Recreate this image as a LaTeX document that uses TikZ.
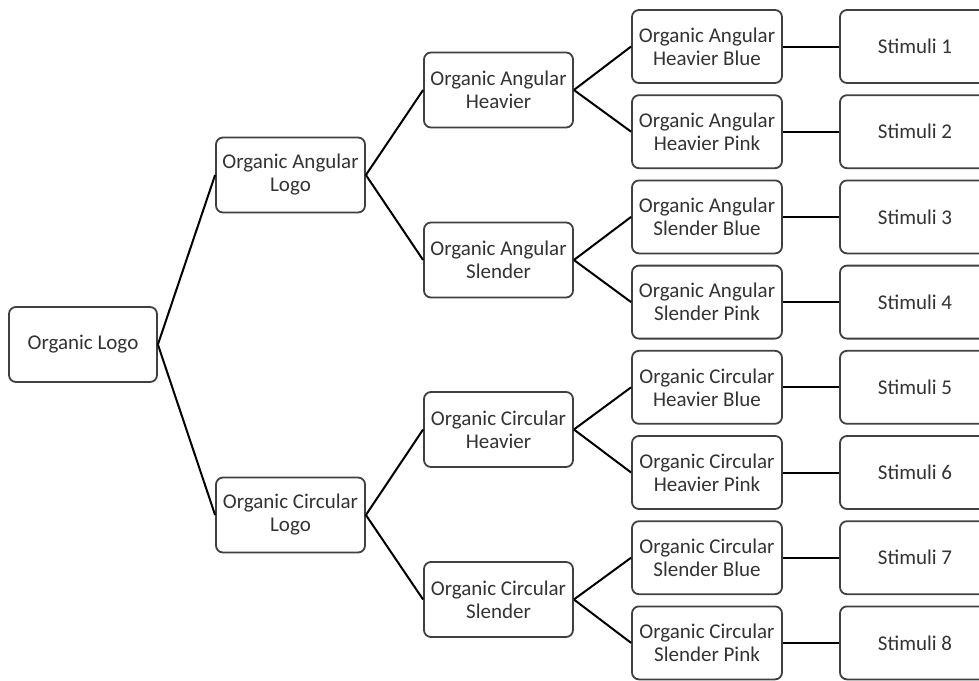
\documentclass[tikz,border=0pt]{standalone}
\usepackage{fontspec}
\setmainfont{Carlito}
\definecolor{boxline}{HTML}{404040}
\definecolor{txt}{HTML}{333333}
\begin{document}
\begin{tikzpicture}[x=1pt,y=1pt,
  box/.style={draw=boxline,line width=1.8pt,rounded corners=7pt,fill=white,
    align=center,inner sep=0pt,text=txt,font=\fontsize{21}{23}\selectfont},
  b0/.style={box,minimum width=148pt,minimum height=75pt},
  b1/.style={box,minimum width=149pt,minimum height=75pt},
  b3/.style={box,minimum width=150pt,minimum height=73pt},
  bs/.style={box,minimum width=150pt,minimum height=73pt},
  conn/.style={line width=2pt,black}]
\clip (0,0) rectangle (979,-680);
\fill[white] (0,0) rectangle (979,-680);
% level 0
\node[b0] (o) at (83,-344.5) {Organic Logo};
% level 1
\node[b1] (al) at (290.5,-175) {Organic Angular\\Logo};
\node[b1] (cl) at (290.5,-515) {Organic Circular\\Logo};
% level 2
\node[b1] (ah) at (498.5,-90) {Organic Angular\\Heavier};
\node[b1] (as) at (498.5,-260) {Organic Angular\\Slender};
\node[b1] (ch) at (498.5,-429.5) {Organic Circular\\Heavier};
\node[b1] (cs) at (498.5,-599.5) {Organic Circular\\Slender};
% level 3
\node[b3] (ahb) at (707,-46.5) {Organic Angular\\Heavier Blue};
\node[b3] (ahp) at (707,-131.7) {Organic Angular\\Heavier Pink};
\node[b3] (asb) at (707,-216.9) {Organic Angular\\Slender Blue};
\node[b3] (asp) at (707,-302.1) {Organic Angular\\Slender Pink};
\node[b3] (chb) at (707,-387.3) {Organic Circular\\Heavier Blue};
\node[b3] (chp) at (707,-472.5) {Organic Circular\\Heavier Pink};
\node[b3] (csb) at (707,-557.7) {Organic Circular\\Slender Blue};
\node[b3] (csp) at (707,-642.9) {Organic Circular\\Slender Pink};
% stimuli
\node[bs] (s1) at (915,-46.5) {Stimuli 1};
\node[bs] (s2) at (915,-131.7) {Stimuli 2};
\node[bs] (s3) at (915,-216.9) {Stimuli 3};
\node[bs] (s4) at (915,-302.1) {Stimuli 4};
\node[bs] (s5) at (915,-387.3) {Stimuli 5};
\node[bs] (s6) at (915,-472.5) {Stimuli 6};
\node[bs] (s7) at (915,-557.7) {Stimuli 7};
\node[bs] (s8) at (915,-642.9) {Stimuli 8};
% connectors
\draw[conn] (o.east) -- (al.west);
\draw[conn] (o.east) -- (cl.west);
\draw[conn] (al.east) -- (ah.west);
\draw[conn] (al.east) -- (as.west);
\draw[conn] (cl.east) -- (ch.west);
\draw[conn] (cl.east) -- (cs.west);
\draw[conn] (ah.east) -- (ahb.west);
\draw[conn] (ah.east) -- (ahp.west);
\draw[conn] (as.east) -- (asb.west);
\draw[conn] (as.east) -- (asp.west);
\draw[conn] (ch.east) -- (chb.west);
\draw[conn] (ch.east) -- (chp.west);
\draw[conn] (cs.east) -- (csb.west);
\draw[conn] (cs.east) -- (csp.west);
\draw[conn] (ahb.east) -- (s1.west);
\draw[conn] (ahp.east) -- (s2.west);
\draw[conn] (asb.east) -- (s3.west);
\draw[conn] (asp.east) -- (s4.west);
\draw[conn] (chb.east) -- (s5.west);
\draw[conn] (chp.east) -- (s6.west);
\draw[conn] (csb.east) -- (s7.west);
\draw[conn] (csp.east) -- (s8.west);
\end{tikzpicture}
\end{document}
